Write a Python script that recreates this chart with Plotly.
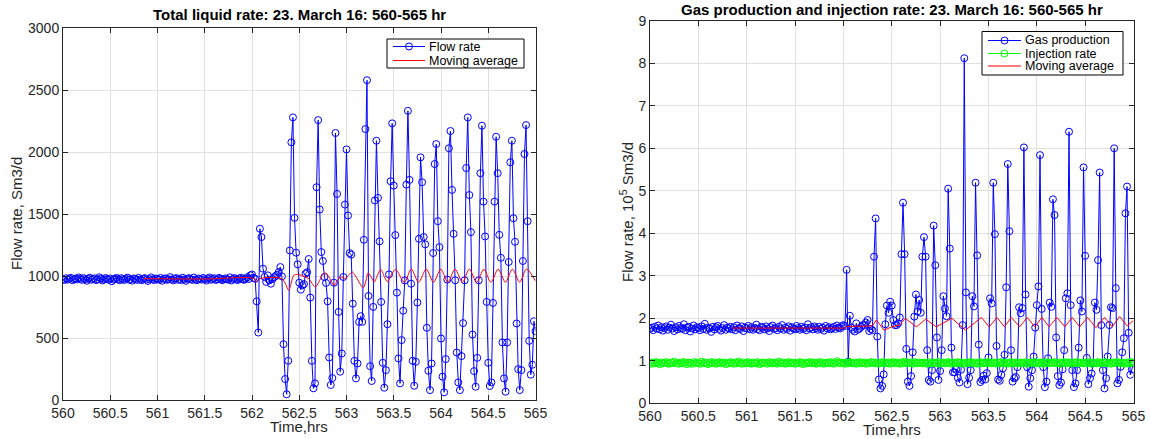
import numpy as np
import plotly.graph_objects as go

# Sampling clock: one logged value per minute from hour 560
START_HR = 560.0
STEP_HR = 1.0 / 60.0

# Total liquid rate, Sm3/d
liquid_steady = [
    975, 968, 982, 971, 979, 985, 966, 974, 980, 972,
    988, 977, 969, 983, 975, 962, 978, 986, 970, 976,
    981, 967, 973, 990, 979, 964, 972, 984, 976, 969,
    980, 958, 971, 977, 985, 973, 966, 982, 975, 968,
    979, 987, 970, 974, 963, 981, 976, 969, 985, 972,
    966, 978, 983, 971, 960, 975, 989, 973, 967, 980,
    976, 970, 984, 962, 977, 981, 969, 974, 991, 972,
    965, 979, 983, 970, 976, 968, 986, 973, 961, 978,
    982, 975, 969, 987, 972, 966, 980, 977, 971, 984,
    974, 963, 979, 988, 970, 976, 982, 968, 973, 985,
    978, 967, 972, 981, 975, 970, 989, 964, 977, 983,
    972, 968, 980, 986, 974, 969, 978, 990, 976, 1005,
    1012, 985, 978,
]
liquid_slugging_a = [
    796, 544, 1381, 1314, 1059, 992, 952, 1005, 965, 938,
    975, 990, 1000, 1010, 1032, 1072, 997, 450, 169, 46,
    316, 1206, 2078, 2279, 1469, 1188, 1094, 946, 890, 925,
    935, 1019, 1030, 1137, 826, 316, 94, 134, 1716, 2257,
    1536, 1193, 1121, 992, 944, 796, 343, 121, 177, 946,
    2153, 1662, 710, 228, 375, 992, 1576, 2021, 1488, 1185,
    1172, 777, 316, 174, 295, 630, 676, 630, 1292, 2185,
    2579, 839, 273, 153, 751, 1609, 2091, 1630, 1279, 791,
    300, 99, 241, 611, 1013, 1764, 2231,
]
liquid_slugging_b = [
    1729, 1330, 866, 335, 134, 483, 720, 965, 1737, 2332,
    1775, 938, 316, 115, 308, 786, 1300, 1957, 1756, 1314,
    1255, 582, 236, 80, 295, 1185, 1903, 2064, 1442, 1233,
    496, 188, 62, 330, 971, 2030, 2169, 1694, 1340, 965,
    383, 142, 80, 354, 620, 965, 1871, 2279, 1653, 1354,
    528, 233, 107, 340, 965, 1829, 2212, 1600, 1319, 791,
    300, 113, 142, 783, 1600, 2123, 1829, 1332, 1147, 464,
    174, 67, 464, 1113, 1917, 2091, 1466, 1276, 617, 249,
    80, 241, 1121, 1984, 2217, 1442, 477, 204, 284, 635,
    555,
]

# Moving average of the liquid rate (hour, Sm3/d)
liquid_ma_hours = [
    560.85, 561.5, 562.02, 562.046, 562.081, 562.31, 562.346, 562.389, 562.417,
    562.442, 562.48, 562.54, 562.60, 562.668, 562.707, 562.742, 562.777, 562.81,
    562.869, 562.905, 562.94, 562.982, 563.025, 563.06, 563.095, 563.177, 563.205,
    563.23, 563.265, 563.293, 563.325, 563.364, 563.40, 563.435, 563.466, 563.52,
    563.612, 563.686, 563.763, 563.844, 563.921, 563.998, 564.072, 564.149,
    564.226, 564.30, 564.377, 564.454, 564.528, 564.605, 564.682, 564.756,
    564.833, 564.904, 565.0,
]
liquid_ma_values = [
    978, 976, 979, 952, 978, 980, 950, 885, 952,
    1005, 1013, 1000, 978, 912, 950, 1005, 1024, 998,
    925, 965, 992, 980, 1010, 1032, 1000, 906, 960,
    1024, 985, 952, 1000, 1052, 995, 952, 1000, 1052,
    950, 1055, 950, 1055, 950, 1055, 950, 1055,
    950, 1055, 950, 1055, 950, 1055, 950, 1055,
    950, 1055, 958,
]

# Gas production, 1e5 Sm3/d
gas_steady = [
    1.75, 1.78, 1.72, 1.80, 1.76, 1.83, 1.74, 1.79, 1.71, 1.77,
    1.81, 1.73, 1.78, 1.85, 1.76, 1.70, 1.79, 1.74, 1.82, 1.77,
    1.75, 1.86, 1.72, 1.78, 1.80, 1.69, 1.76, 1.83, 1.74, 1.79,
    1.77, 1.72, 1.81, 1.75, 1.87, 1.73, 1.78, 1.76, 1.68, 1.80,
    1.74, 1.79, 1.82, 1.75, 1.71, 1.77, 1.84, 1.73, 1.78, 1.76,
    1.80, 1.74, 1.79, 1.72, 1.83, 1.77, 1.75, 1.81, 1.70, 1.78,
    1.76, 1.82, 1.74, 1.79, 1.73, 1.77, 1.85, 1.75, 1.72, 1.80,
    1.78, 1.74, 1.81, 1.76, 1.70, 1.79, 1.83, 1.75, 1.77, 1.72,
    1.80, 1.76, 1.84, 1.73, 1.78, 1.75, 1.81, 1.71, 1.79, 1.76,
    1.74, 1.82, 1.77, 1.73, 1.80, 1.75, 1.78, 1.72, 1.86, 1.76,
    1.79, 1.74, 1.81, 1.77, 1.73, 1.80, 1.75, 1.78, 1.71, 1.82,
    1.76, 1.79, 1.74, 1.77, 1.80, 1.75, 1.83, 1.78, 1.76, 1.81,
    1.84, 1.82,
]
gas_slugging_a = [
    3.14, 0.98, 2.06, 1.78, 1.73, 1.69, 1.88, 1.73, 1.76, 1.80,
    1.84, 1.84, 1.90, 1.96, 1.70, 1.75, 1.72, 3.45, 4.35, 1.57,
    0.56, 0.35, 0.41, 0.68, 1.86, 2.30, 2.13, 2.39, 2.30, 1.96,
    1.84, 1.84, 1.88, 2.02, 3.51, 4.72, 3.51, 1.28, 0.51, 0.41,
    0.64, 1.20, 2.04, 2.56, 2.16, 2.43, 2.13, 3.45, 3.91, 3.45,
    1.25, 0.55, 0.51, 0.78, 4.18, 3.25, 1.55, 0.55, 0.76, 1.25,
    2.52, 2.23, 2.05, 5.05, 3.64, 1.31, 0.73, 0.73, 0.79, 0.60,
    0.49, 0.79, 1.84, 8.12, 2.61, 0.45, 0.60, 0.78, 2.52, 2.28,
    5.19, 3.48, 1.38, 0.50, 0.55, 0.65,
]
gas_slugging_b = [
    0.56, 0.71, 1.08, 2.47, 2.35, 5.19, 3.98, 1.35, 0.56, 0.53,
    0.67, 0.82, 1.14, 2.73, 5.63, 4.05, 1.25, 0.51, 0.59, 0.62,
    0.85, 2.26, 2.12, 2.24, 6.02, 2.56, 0.85, 0.39, 0.59, 0.78,
    1.10, 1.78, 2.31, 2.75, 5.84, 2.22, 0.85, 0.38, 0.51, 1.06,
    2.37, 2.27, 4.80, 4.43, 1.55, 0.64, 0.43, 0.49, 0.80, 1.25,
    2.47, 2.59, 6.39, 2.31, 0.78, 0.38, 0.47, 0.78, 1.31, 2.42,
    2.16, 5.55, 3.47, 1.07, 0.45, 0.59, 0.70, 0.94, 2.37, 2.20,
    3.37, 5.43, 1.84, 0.78, 0.35, 0.59, 1.10, 1.84, 2.26, 2.24,
    6.00, 2.71, 0.47, 0.55, 0.86, 1.20, 1.53, 4.47, 5.10, 1.66,
    0.67, 0.80, 0.94,
]

# Gas-lift injection rate, 1e5 Sm3/d
injection_rate = [
    0.95, 0.93, 0.96, 0.94, 0.97, 0.95, 0.92, 0.96, 0.94, 0.95,
    0.97, 0.94, 0.93, 0.96, 0.95, 0.98, 0.94, 0.95, 0.93, 0.96,
    0.94, 0.97, 0.95, 0.92, 0.96, 0.95, 0.93, 0.97, 0.94, 0.96,
    0.95, 0.93, 0.98, 0.94, 0.96, 0.95, 0.92, 0.95, 0.97, 0.94,
    0.96, 0.93, 0.95, 0.97, 0.94, 0.95, 0.96, 0.92, 0.95, 0.94,
    0.97, 0.95, 0.93, 0.96, 0.94, 0.98, 0.95, 0.93, 0.96, 0.94,
    0.95, 0.97, 0.94, 0.93, 0.96, 0.95, 0.94, 0.97, 0.92, 0.95,
    0.96, 0.94, 0.95, 0.93, 0.97, 0.95, 0.94, 0.96, 0.95, 0.93,
    0.98, 0.95, 0.94, 0.96, 0.93, 0.95, 0.97, 0.94, 0.95, 0.96,
    0.93, 0.95, 0.94, 0.97, 0.95, 0.92, 0.96, 0.94, 0.95, 0.97,
    0.94, 0.96, 0.95, 0.93, 0.95, 0.97, 0.94, 0.96, 0.93, 0.95,
    0.96, 0.94, 0.97, 0.95, 0.93, 0.96, 0.99, 0.95, 0.94, 0.96,
    0.95, 0.93, 0.96, 0.94, 0.97, 0.95, 0.94, 0.96, 0.93, 0.95,
    0.97, 0.94, 0.95, 0.96, 0.93, 0.95, 0.94, 0.97, 0.95, 0.96,
    0.94, 0.95, 0.93, 0.96, 0.95, 0.97, 0.94, 0.95, 0.96, 0.93,
    0.95, 0.97, 0.94, 0.96, 0.95, 0.93, 0.96, 0.94, 0.98, 0.95,
    0.94, 0.96, 0.95, 0.93, 0.97, 0.95, 0.94, 0.96, 0.95, 0.94,
    0.96, 0.95, 0.93, 0.97, 0.94, 0.95, 0.96, 0.94, 0.95, 0.97,
    0.93, 0.95, 0.96, 0.94, 0.95, 0.97, 0.95, 0.93, 0.96, 0.95,
    0.94, 0.97, 0.95, 0.96, 0.93, 0.95, 0.94, 0.96, 0.95, 0.97,
    0.95, 0.94, 0.96, 0.93, 0.95, 0.97, 0.94, 0.95, 0.96, 0.94,
    0.97, 0.95, 0.94, 0.96, 0.95, 0.93, 0.96, 0.95, 0.97, 0.94,
    0.95, 0.96, 0.93, 0.95, 0.97, 0.94, 0.95, 0.96, 0.94, 0.95,
    0.96, 0.94, 0.95, 0.97, 0.93, 0.95, 0.96, 0.94, 0.95, 0.97,
    0.94, 0.95, 0.96, 0.95, 0.93, 0.97, 0.95, 0.94, 0.96, 0.95,
    0.95, 0.97, 0.94, 0.95, 0.96, 0.93, 0.95, 0.97, 0.94, 0.96,
    0.96, 0.95, 0.93, 0.96, 0.95, 0.97, 0.94, 0.95, 0.96, 0.94,
    0.95, 0.94, 0.97, 0.95, 0.93, 0.96, 0.95, 0.94, 0.97, 0.95,
    0.94, 0.96, 0.95, 0.97, 0.94, 0.95, 0.93, 0.96, 0.95, 0.96,
    0.97, 0.95, 0.94, 0.96, 0.95, 0.93, 0.96, 0.95, 0.94, 0.97,
    0.96,
]

# Moving average of the gas production (hour, 1e5 Sm3/d)
gas_ma_hours = [
    560.85, 562.02, 562.035, 562.30, 562.341, 562.42, 562.50, 562.58, 562.639,
    562.755, 562.852, 562.96, 563.123, 563.263, 563.427, 563.508, 563.588,
    563.666, 563.736, 563.823, 563.901, 563.98, 564.052, 564.128, 564.209,
    564.289, 564.367, 564.443, 564.524, 564.612, 564.70, 564.78, 564.857,
    564.935, 565.0,
]
gas_ma_values = [
    1.77, 1.77, 1.81, 1.82, 1.96, 1.72, 1.80, 1.84, 2.00,
    1.80, 1.98, 1.80, 2.00, 1.72, 2.02, 1.80, 2.02,
    1.80, 2.02, 1.80, 2.02, 1.80, 2.02, 1.80, 2.02,
    1.80, 2.02, 1.80, 2.02, 1.78, 2.02, 1.80, 2.04,
    1.82, 1.95,
]

liquid_rate = liquid_steady + liquid_slugging_a + liquid_slugging_b
gas_rate = gas_steady + gas_slugging_a + gas_slugging_b
hours = START_HR + STEP_HR * np.arange(len(liquid_rate))

BLUE, RED, GREEN = "#0000ff", "#ff0000", "#00ff00"
FONT = "Liberation Sans, Arial, Helvetica, sans-serif"
AXIS_COLOR = "#262626"
W, H = 1150, 439


def px_x(p):
    return p / W


def px_y(p):
    return 1 - p / H


def marker_line(color, y, xa, ya):
    return go.Scatter(
        x=hours, y=y, mode="lines+markers",
        line=dict(color=color, width=1),
        marker=dict(symbol="circle-open", size=7, color=color,
                    line=dict(color=color, width=1)),
        xaxis=xa, yaxis=ya, hoverinfo="x+y",
    )


fig = go.Figure()
fig.add_trace(marker_line(BLUE, liquid_rate, "x", "y"))
fig.add_trace(go.Scatter(x=liquid_ma_hours, y=liquid_ma_values, mode="lines",
                         line=dict(color=RED, width=1, shape="spline", smoothing=0.9),
                         xaxis="x", yaxis="y"))
fig.add_trace(marker_line(BLUE, gas_rate, "x2", "y2"))
fig.add_trace(marker_line(GREEN, injection_rate, "x2", "y2"))
fig.add_trace(go.Scatter(x=gas_ma_hours, y=gas_ma_values, mode="lines",
                         line=dict(color=RED, width=1),
                         xaxis="x2", yaxis="y2"))

axis_common = dict(
    showline=True, linecolor=AXIS_COLOR, linewidth=1, mirror="ticks",
    ticks="inside", ticklen=5, tickcolor=AXIS_COLOR, tickwidth=1,
    showgrid=True, gridcolor="#e0e0e0", gridwidth=1, zeroline=False,
    automargin=False,
    tickfont=dict(family=FONT, size=14, color=AXIS_COLOR),
)
time_ticks = [560 + 0.5 * k for k in range(11)]

fig.update_layout(
    width=W, height=H,
    margin=dict(l=0, r=0, t=0, b=0, autoexpand=False),
    paper_bgcolor="white", plot_bgcolor="white",
    font=dict(family=FONT, color="black"),
    showlegend=False,
    xaxis=dict(axis_common, domain=[px_x(63), px_x(535.5)], range=[560, 565],
               tickvals=time_ticks, anchor="y"),
    yaxis=dict(axis_common, domain=[px_y(400), px_y(28)], range=[0, 3000],
               dtick=500, anchor="x"),
    xaxis2=dict(axis_common, domain=[px_x(650), px_x(1133.5)], range=[560, 565],
                tickvals=time_ticks, anchor="y2"),
    yaxis2=dict(axis_common, domain=[px_y(403.3), px_y(20.8)], range=[0, 9],
                dtick=1, anchor="x2"),
)

# Legend boxes drawn in page pixels
LEGEND_FONT = dict(family=FONT, size=12.5, color="black")


def add_text(text, x, y, font, xanchor="center", angle=0):
    fig.add_annotation(text=text, x=px_x(x), y=px_y(y), xref="paper", yref="paper",
                       xanchor=xanchor, yanchor="middle", showarrow=False,
                       textangle=angle, font=font)


def draw_legend(box, rows, line_x, text_x):
    x0, y0, x1, y1 = box
    fig.add_shape(type="rect", xref="paper", yref="paper",
                  x0=px_x(x0), x1=px_x(x1), y0=px_y(y1), y1=px_y(y0),
                  line=dict(color="black", width=1), fillcolor="white", layer="above")
    for label, color, with_marker, row_y in rows:
        fig.add_shape(type="line", xref="paper", yref="paper",
                      x0=px_x(line_x[0]), x1=px_x(line_x[1]),
                      y0=px_y(row_y), y1=px_y(row_y),
                      line=dict(color=color, width=1), layer="above")
        if with_marker:
            cx = (line_x[0] + line_x[1]) / 2
            fig.add_shape(type="circle", xref="paper", yref="paper",
                          x0=px_x(cx - 3.5), x1=px_x(cx + 3.5),
                          y0=px_y(row_y + 3.5), y1=px_y(row_y - 3.5),
                          line=dict(color=color, width=1), layer="above")
        add_text(label, text_x, row_y, LEGEND_FONT, xanchor="left")


draw_legend((387, 39, 524, 68),
            [("Flow rate", BLUE, True, 46.5), ("Moving average", RED, False, 60.5)],
            (393, 425), 427)
draw_legend((982, 31.5, 1123, 75),
            [("Gas production", BLUE, True, 40.5), ("Injection rate", GREEN, True, 53.5),
             ("Moving average", RED, False, 66)],
            (988, 1021), 1023)

text_font = dict(family=FONT, size=15, color="#262626")
title_font = dict(family=FONT, size=15, color="black")
add_text("<b>Total liquid rate: 23. March 16: 560-565 hr</b>", 299, 15, title_font)
add_text("<b>Gas production and injection rate: 23. March 16: 560-565 hr</b>", 892, 10,
         title_font)
add_text("Time,hrs", 299, 426.5, text_font)
add_text("Time,hrs", 892, 429.5, text_font)
add_text("Flow rate, Sm3/d", 17, 214, text_font, angle=-90)
add_text("Flow rate, 10<sup>5</sup> Sm3/d", 627, 212, text_font, angle=-90)

fig.write_html("out.html")
